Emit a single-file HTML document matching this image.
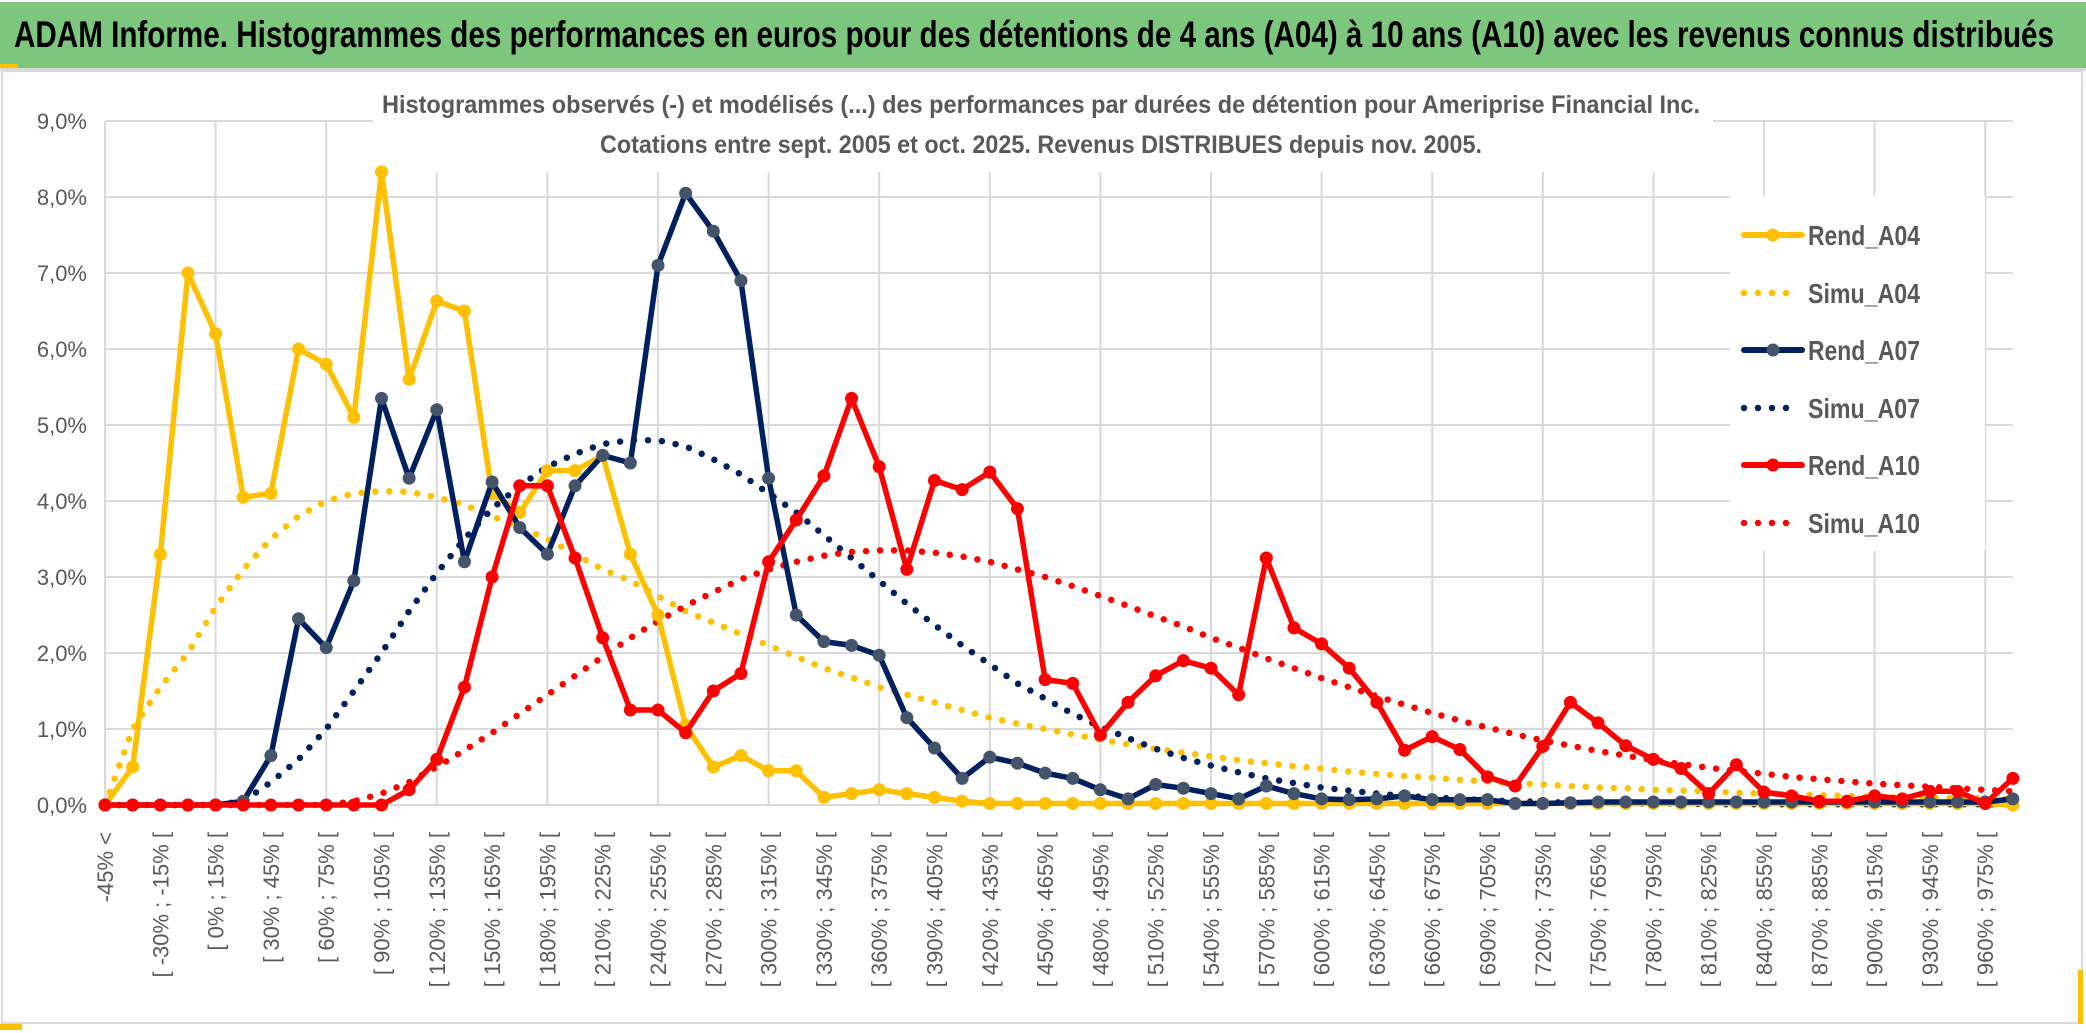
<!DOCTYPE html>
<html><head><meta charset="utf-8"><style>
html,body{margin:0;padding:0;background:#fff;}
svg{display:block;font-family:"Liberation Sans",sans-serif;}
</style></head><body>
<svg id="chart" width="2086" height="1033" viewBox="0 0 2086 1033" xmlns="http://www.w3.org/2000/svg">
<rect x="0" y="0" width="2086" height="1033" fill="#fff"/>
<rect x="0" y="2" width="2086" height="66" fill="#7dc67e"/>
<rect x="0" y="68" width="2086" height="3" fill="#d9d9d9"/>
<rect x="0" y="64" width="18" height="4" fill="#ffc000"/>
<text x="14" y="47" font-size="37" font-weight="bold" fill="#000" textLength="2040" lengthAdjust="spacingAndGlyphs">ADAM Informe. Histogrammes des performances en euros pour des détentions de 4 ans (A04) à 10 ans (A10) avec les revenus connus distribués</text>
<rect x="2" y="71" width="2080" height="952" fill="none" stroke="#d9d9d9" stroke-width="2"/>
<rect x="2078" y="970" width="5" height="54" fill="#ffc000"/>
<rect x="0" y="1024" width="22" height="6" fill="#ffc000"/>
<g id="grid"></g>
<rect x="373" y="84" width="1340" height="88" fill="#fff"/>
<text x="1041" y="113" font-size="25" font-weight="bold" fill="#595959" text-anchor="middle" textLength="1318" lengthAdjust="spacingAndGlyphs">Histogrammes observés (-) et modélisés (...) des performances par durées de détention pour Ameriprise Financial Inc.</text>
<text x="1041" y="153" font-size="25" font-weight="bold" fill="#595959" text-anchor="middle" textLength="882" lengthAdjust="spacingAndGlyphs">Cotations entre sept. 2005 et oct. 2025. Revenus DISTRIBUES depuis nov. 2005.</text>
<g id="yaxis"></g>
<g id="xaxis"></g>
<g id="series"></g>
<g id="legend"></g>
</svg>
<script>
const yTicks = [0,1,2,3,4,5,6,7,8,9];
const rendA04 = [0,0.5,3.3,7.0,6.2,4.05,4.1,6.0,5.8,5.1,8.33,5.6,6.63,6.5,4.1,3.85,4.4,4.4,4.6,3.3,2.5,1.05,0.5,0.65,0.45,0.45,0.1,0.15,0.2,0.15,0.1,0.05,0.02,0.02,0.02,0.02,0.02,0.02,0.02,0.02,0.02,0.02,0.02,0.02,0.02,0.02,0.02,0.02,0.02,0.02,0.02,0.02,0.02,0.02,0.02,0.02,0.02,0.02,0.02,0.02,0.02,0.02,0.02,0.02,0.02,0.02,0.02,0.02,0.02,0];
const rendA07 = [0,0,0,0,0,0.05,0.65,2.45,2.07,2.95,5.35,4.3,5.2,3.2,4.25,3.65,3.3,4.2,4.6,4.5,7.1,8.05,7.55,6.9,4.3,2.5,2.15,2.1,1.97,1.15,0.75,0.35,0.63,0.55,0.42,0.35,0.2,0.08,0.27,0.22,0.15,0.08,0.25,0.15,0.08,0.07,0.08,0.12,0.07,0.07,0.07,0.02,0.02,0.03,0.04,0.04,0.04,0.04,0.04,0.04,0.04,0.04,0.04,0.04,0.04,0.04,0.04,0.04,0.04,0.08];
const rendA10 = [0,0,0,0,0,0,0,0,0,0,0,0.2,0.6,1.55,3.0,4.2,4.2,3.25,2.2,1.25,1.25,0.95,1.5,1.73,3.2,3.75,4.33,5.35,4.45,3.1,4.27,4.15,4.38,3.9,1.65,1.6,0.92,1.35,1.7,1.9,1.8,1.45,3.25,2.33,2.12,1.8,1.35,0.72,0.9,0.73,0.37,0.25,0.77,1.35,1.08,0.78,0.6,0.48,0.15,0.53,0.17,0.12,0.05,0.05,0.12,0.08,0.18,0.18,0.02,0.35];
const simuA04 = [0,1.0,1.55,2.0,2.6,3.1,3.5,3.8,4.0,4.1,4.13,4.12,4.05,3.95,3.8,3.65,3.5,3.3,3.1,2.95,2.75,2.55,2.4,2.25,2.1,1.95,1.8,1.68,1.55,1.45,1.35,1.25,1.15,1.07,1.0,0.93,0.86,0.8,0.74,0.69,0.64,0.59,0.55,0.51,0.48,0.44,0.41,0.38,0.36,0.33,0.31,0.29,0.27,0.25,0.23,0.22,0.2,0.19,0.18,0.16,0.15,0.14,0.13,0.12,0.11,0.1,0.1,0.09,0.09,0.08];
const simuA07 = [0,0,0,0,0,0.05,0.3,0.6,1.0,1.5,2.0,2.55,3.05,3.5,3.9,4.2,4.45,4.62,4.75,4.8,4.8,4.72,4.55,4.35,4.1,3.85,3.55,3.25,2.95,2.65,2.37,2.1,1.85,1.6,1.4,1.2,1.03,0.88,0.74,0.62,0.52,0.43,0.35,0.29,0.23,0.19,0.15,0.12,0.1,0.08,0.06,0.05,0.04,0.03,0.03,0.02,0.02,0.02,0.01,0.01,0.01,0.01,0.01,0.01,0.01,0.01,0.01,0.01,0.01,0.01];
const simuA10 = [0,0,0,0,0,0,0,0,0,0.05,0.15,0.3,0.5,0.72,0.95,1.2,1.45,1.7,1.95,2.2,2.42,2.62,2.8,2.97,3.1,3.2,3.28,3.33,3.35,3.35,3.32,3.27,3.2,3.1,3.0,2.88,2.75,2.62,2.48,2.35,2.2,2.07,1.93,1.8,1.67,1.55,1.43,1.32,1.21,1.11,1.02,0.93,0.85,0.78,0.71,0.65,0.59,0.54,0.49,0.45,0.41,0.37,0.34,0.31,0.28,0.26,0.24,0.22,0.2,0.18];
const legendNames = ["Rend_A04","Simu_A04","Rend_A07","Simu_A07","Rend_A10","Simu_A10"];

const NS="http://www.w3.org/2000/svg";
const X0=105, DX=27.65, Y0=805, DY=76;
const xs=i=>X0+DX*i, ys=v=>Y0-v*DY;
const N=rendA04.length;
function mk(tag,attrs,parent){const e=document.createElementNS(NS,tag);for(const k in attrs)e.setAttribute(k,attrs[k]);parent.appendChild(e);return e;}
const catLabels=[];
for(let i=0;i<N;i++){ if(i===0) catLabels.push("-45% <"); else {const a=-45+15*(i-1); catLabels.push("[ "+a+"% ; "+(a+15)+"% [");} }

const grid=document.getElementById('grid');
const xR=xs(N-1);
yTicks.forEach(t=>{const l=mk('line',{x1:X0,x2:xR,y1:ys(t),y2:ys(t),stroke:'#d9d9d9','stroke-width':2},grid);

});
for(let i=0;i<N;i+=4){const l=mk('line',{x1:xs(i),x2:xs(i),y1:ys(9),y2:Y0,stroke:'#d9d9d9','stroke-width':2},grid);

}

const ya=document.getElementById('yaxis');
yTicks.forEach(t=>{const e=mk('text',{x:87,y:ys(t)+8,'font-size':22,fill:'#595959','text-anchor':'end'},ya);e.textContent=t.toFixed(1).replace('.',',')+'%';

});

const xa=document.getElementById('xaxis');
for(let i=0;i<N;i+=2){const e=mk('text',{x:0,y:0,'font-size':22,fill:'#595959','text-anchor':'end',transform:`translate(${xs(i)+8},832) rotate(-90)`},xa);e.textContent=catLabels[i];

}

const sg=document.getElementById('series');
function pts(arr){return arr.map((v,i)=>xs(i).toFixed(1)+','+ys(v).toFixed(1)).join(' ');}
function dotted(arr,color,name){const p=mk('polyline',{points:pts(arr),fill:'none',stroke:color,'stroke-width':6.5,'stroke-linecap':'round','stroke-dasharray':'0 14'},sg);

}
function solid(arr,color,mcolor,name){const g=mk('g',{},sg);


mk('polyline',{points:pts(arr),fill:'none',stroke:color,'stroke-width':5.5,'stroke-linejoin':'round'},g);
arr.forEach((v,i)=>{const c=mk('circle',{cx:xs(i),cy:ys(v),r:6.5,fill:mcolor},g);

});}
dotted(simuA04,'#ffc000','simu-a04-line');
dotted(simuA07,'#002060','simu-a07-line');
dotted(simuA10,'#ff0000','simu-a10-line');
solid(rendA04,'#ffc000','#ffc000','rend-a04-line');
solid(rendA07,'#002060','#44546a','rend-a07-line');
solid(rendA10,'#ff0000','#ff0000','rend-a10-line');

const lg=document.getElementById('legend');
mk('rect',{x:1730,y:196,width:255,height:355,fill:'#fff'},lg);
const lgColors=['#ffc000','#ffc000','#002060','#002060','#ff0000','#ff0000'];
const lgY=[235,293,350,408,465,523];
legendNames.forEach((n,i)=>{const g=mk('g',{},lg);


const y=lgY[i];
if(i%2===0){mk('line',{x1:1744,x2:1802,y1:y,y2:y,stroke:lgColors[i],'stroke-width':6,'stroke-linecap':'round'},g);
mk('circle',{cx:1773,cy:y,r:6.5,fill:i===2?'#44546a':lgColors[i]},g);}
else{mk('line',{x1:1744,x2:1800,y1:y,y2:y,stroke:lgColors[i],'stroke-width':6.5,'stroke-linecap':'round','stroke-dasharray':'0 14'},g);}
const t=mk('text',{x:1808,y:y+10,'font-size':28,'font-weight':'bold',fill:'#595959',textLength:112,lengthAdjust:'spacingAndGlyphs'},g);t.textContent=n;});
</script>
</body></html>
